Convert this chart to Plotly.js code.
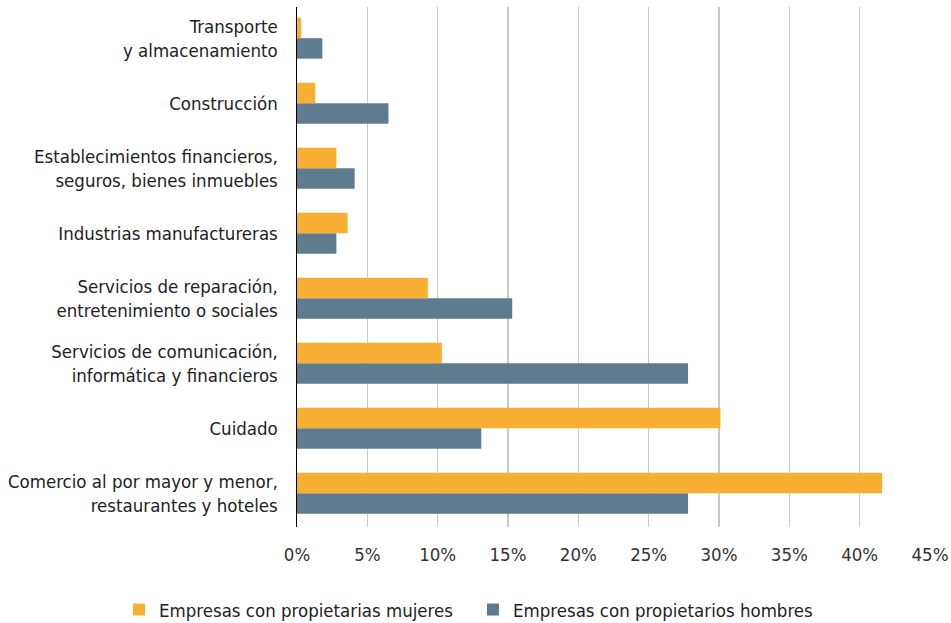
<!DOCTYPE html>
<html>
<head>
<meta charset="utf-8">
<script src="https://cdn.plot.ly/plotly-3.0.1.min.js"></script>
<style>html,body{margin:0;padding:0;background:#fff;}#chart{width:951px;height:623px;}</style>
</head>
<body>
<div id="chart"></div>
<script>
const categories = [
  "Comercio al por mayor y menor,<br>restaurantes y hoteles",
  "Cuidado",
  "Servicios de comunicación,<br>informática y financieros",
  "Servicios de reparación,<br>entretenimiento o sociales",
  "Industrias manufactureras",
  "Establecimientos financieros,<br>seguros, bienes inmuebles",
  "Construcción",
  "Transporte<br>y almacenamiento"
];
const mujeres = [41.6, 30.1, 10.3, 9.3, 3.6, 2.8, 1.3, 0.3];
const hombres = [27.8, 13.1, 27.8, 15.3, 2.8, 4.1, 6.5, 1.8];
const xTicks = [0, 5, 10, 15, 20, 25, 30, 35, 40, 45];
const xTickLabels = ["0%", "5%", "10%", "15%", "20%", "25%", "30%", "35%", "40%", "45%"];
const seriesNames = ["Empresas con propietarias mujeres", "Empresas con propietarios hombres"];

const FONT = "'DejaVu Sans Condensed', 'Liberation Sans Narrow', sans-serif";
const FS = 18.5;

const traces = [
  {type: "bar", orientation: "h", name: seriesNames[1], y: categories, x: hombres,
   marker: {color: "#5E7B8F"}, legend: "legend2"},
  {type: "bar", orientation: "h", name: seriesNames[0], y: categories, x: mujeres,
   marker: {color: "#F9AE34"}, legend: "legend"}
];

const legendBase = {
  orientation: "h", xref: "container", yref: "container",
  xanchor: "left", y: 13 / 623, yanchor: "middle",
  font: {family: FONT, size: FS, color: "#222222"},
  itemwidth: 30, bgcolor: "rgba(0,0,0,0)"
};

const layout = {
  width: 951, height: 623,
  margin: {l: 297, r: 21, t: 7, b: 96},
  paper_bgcolor: "#ffffff", plot_bgcolor: "#ffffff",
  font: {family: FONT, size: FS, color: "#222222"},
  barmode: "group", bargap: 0.37, bargroupgap: 0,
  xaxis: {range: [0, 45], tickvals: xTicks, ticktext: xTickLabels,
          showgrid: true, gridcolor: "#c8c8c8", gridwidth: 1.5,
          zeroline: false, showline: false, ticks: "", ticklabelstandoff: 14,
          tickfont: {family: FONT, size: FS, color: "#333333"}, fixedrange: true},
  yaxis: {range: [-0.52, 7.48], showgrid: false, zeroline: false,
          showline: true, linecolor: "#000000", linewidth: 1.5,
          ticks: "", ticklabelstandoff: 14,
          tickfont: {family: FONT, size: FS, color: "#222222"}, fixedrange: true},
  showlegend: true,
  legend: Object.assign({}, legendBase, {x: 119 / 951}),
  legend2: Object.assign({}, legendBase, {x: 473 / 951})
};

Plotly.newPlot("chart", traces, layout, {displayModeBar: false, staticPlot: true});
</script>
</body>
</html>
